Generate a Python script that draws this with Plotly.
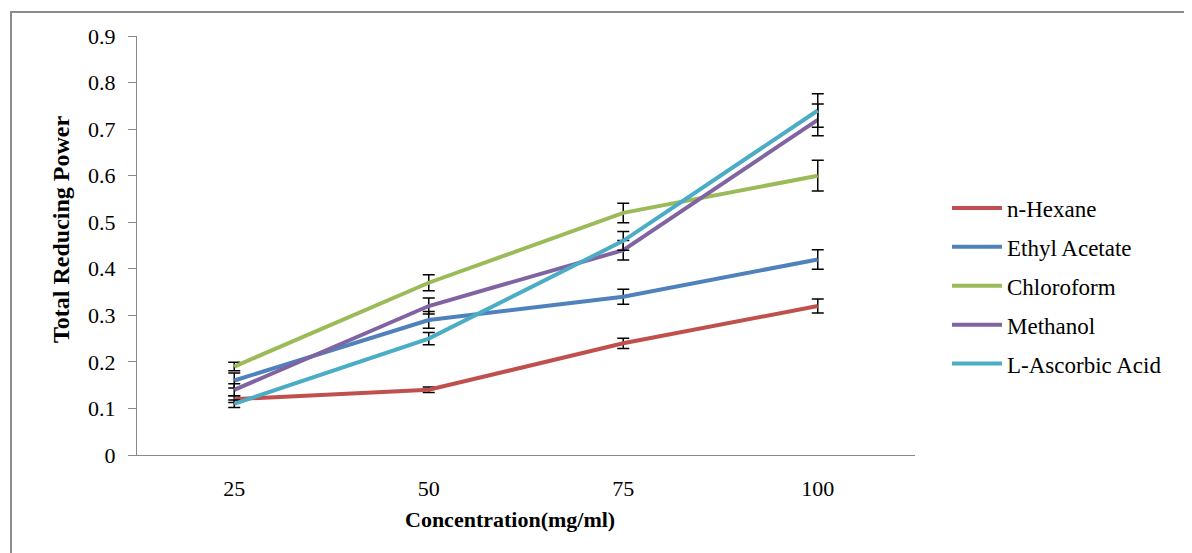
import plotly.graph_objects as go

concentrations = [25, 50, 75, 100]
series_names = ["n-Hexane", "Ethyl Acetate", "Chloroform", "Methanol", "L-Ascorbic Acid"]
hexane = [0.12, 0.14, 0.24, 0.32]
ethyl_acetate = [0.16, 0.29, 0.34, 0.42]
chloroform = [0.19, 0.37, 0.52, 0.60]
methanol = [0.14, 0.32, 0.44, 0.72]
ascorbic = [0.11, 0.25, 0.46, 0.74]

hexane_err = [0.007, 0.006, 0.011, 0.015]
ethyl_acetate_err = [0.016, 0.018, 0.016, 0.021]
chloroform_err = [0.009, 0.017, 0.021, 0.033]
methanol_err = [0.013, 0.017, 0.021, 0.034]
ascorbic_err = [0.008, 0.013, 0.02, 0.036]

series_values = [hexane, ethyl_acetate, chloroform, methanol, ascorbic]
series_errors = [hexane_err, ethyl_acetate_err, chloroform_err, methanol_err, ascorbic_err]
colors = ["#C0504D", "#4F81BD", "#9BBB59", "#8064A2", "#4BACC6"]

# page body has an 8px margin; compensate so the plot lands where the reference has it
OFF = 8
W, H = 1192 - OFF, 553 - OFF
PL, PT, PW, PH = 137, 36, 778, 419  # plot area in screen pixels
L, T = PL - OFF, PT - OFF
R, B = W - L - PW, H - T - PH

fig = go.Figure()
for i, (name, vals, errs, col) in enumerate(zip(series_names, series_values, series_errors, colors)):
    fig.add_trace(go.Scatter(
        x=concentrations, y=vals, name=name, mode="lines",
        line=dict(color=col, width=4),
        error_y=dict(type="data", array=errs, visible=True, color="black", thickness=1.5, width=6),
        legendgroup=f"g{i}",
    ))

font_family = "Liberation Serif, Times New Roman, serif"

def px_x(p):
    return (p - PL) / PW

def px_y(p):
    return (PT + PH - p) / PH

fig.update_layout(
    width=W, height=H,
    margin=dict(l=L, r=R, t=T, b=B, autoexpand=False),
    paper_bgcolor="white", plot_bgcolor="white",
    font=dict(family=font_family, size=22, color="black"),
    showlegend=True,
    legend=dict(x=px_x(947), y=px_y(286), xanchor="left", yanchor="middle",
                font=dict(family=font_family, size=23, color="black"),
                traceorder="grouped", tracegroupgap=6, itemwidth=50,
                bgcolor="rgba(0,0,0,0)"),
    xaxis=dict(range=[12.5, 112.5], tickvals=concentrations, ticktext=[str(c) for c in concentrations],
               showgrid=False, zeroline=False, showline=True, linecolor="#898989", linewidth=1,
               ticks="", ticklabelstandoff=14, tickfont=dict(size=22, family=font_family)),
    yaxis=dict(range=[0, 0.9], dtick=0.1, showgrid=False, zeroline=False,
               showline=True, linecolor="#898989", linewidth=1,
               ticks="outside", ticklen=8, tickcolor="#898989", ticklabelstandoff=8,
               tickfont=dict(size=22, family=font_family)),
    annotations=[
        dict(text="<b>Concentration(mg/ml)</b>", xref="paper", yref="paper",
             x=px_x(510), y=px_y(519), xanchor="center", yanchor="middle", showarrow=False,
             font=dict(size=22, family=font_family, color="black")),
        dict(text="<b>Total Reducing Power</b>", xref="paper", yref="paper",
             x=px_x(61), y=px_y(230), xanchor="center", yanchor="middle", showarrow=False,
             textangle=-90, font=dict(size=24, family=font_family, color="black")),
    ],
    shapes=[dict(type="rect", xref="paper", yref="paper",
                 x0=px_x(11), x1=px_x(1200), y0=px_y(12), y1=px_y(570),
                 line=dict(color="#8c8c8c", width=2), fillcolor="rgba(0,0,0,0)", layer="below")],
)

fig.write_html("out.html")
